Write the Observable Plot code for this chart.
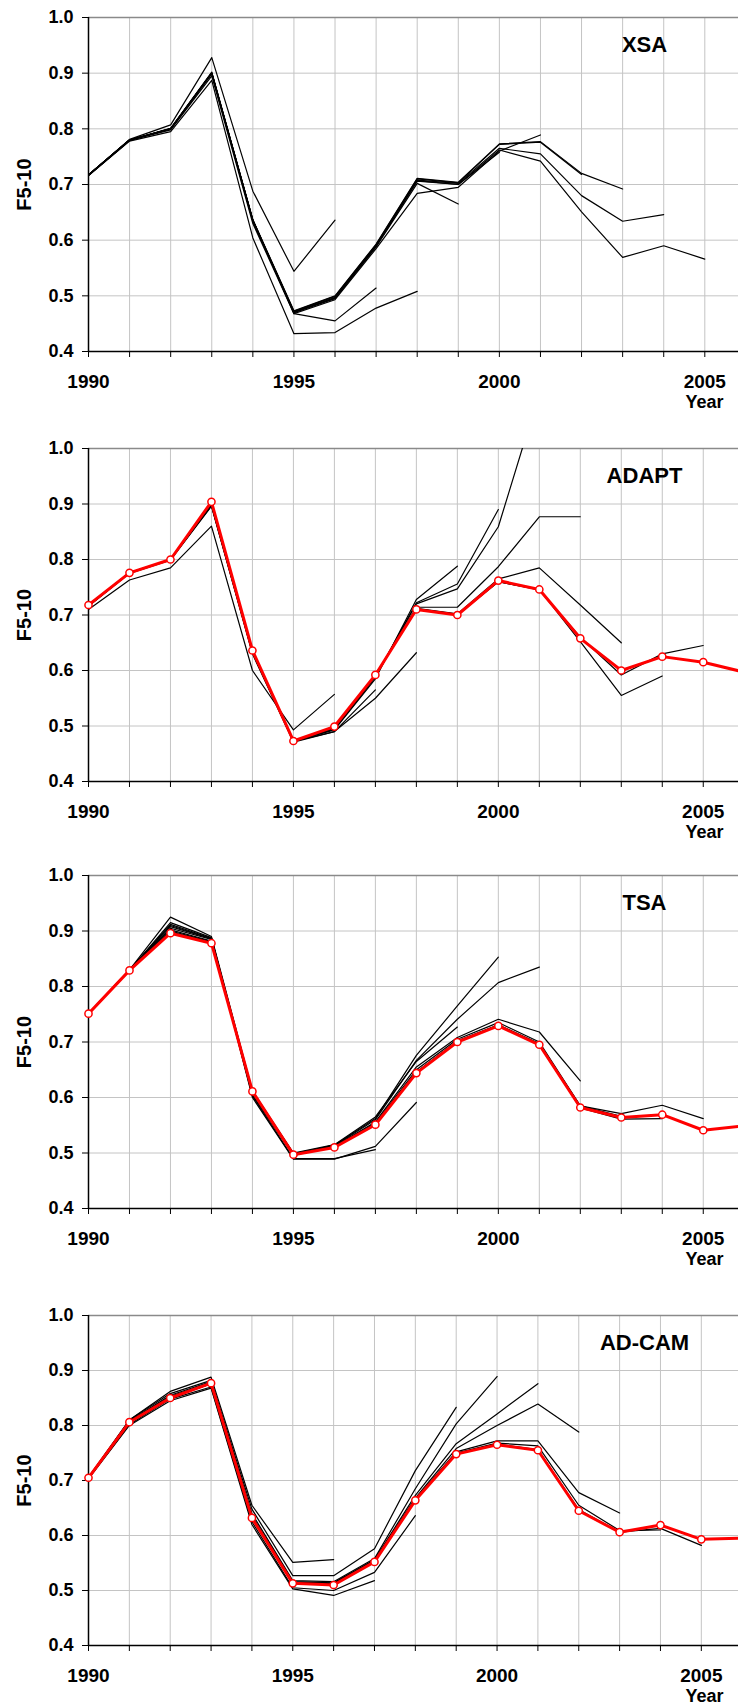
<!DOCTYPE html>
<html><head><meta charset="utf-8">
<script src="https://cdn.jsdelivr.net/npm/d3@7"></script>
<script src="https://cdn.jsdelivr.net/npm/@observablehq/plot@0.6"></script>
<style>
html,body{margin:0;padding:0;background:#fff;overflow:hidden}
#chart{position:relative;width:738px;height:1706px}
#chart svg{position:absolute;left:0}
</style></head><body><div id="chart"></div>
<script>
// ---- data ----
const firstYear = 1990;
const xTickYears = d3.range(1990, 2006);
const labelYears = [1990, 1995, 2000, 2005];
const yTicks = [0.4, 0.5, 0.6, 0.7, 0.8, 0.9, 1.0];
const panelTitles = ["XSA", "ADAPT", "TSA", "AD-CAM"];
const yLabel = "F5-10";
const xLabel = "Year";

// retrospective runs (values from 1990 to terminal year 1996..2005)
const xsaRuns = [
  [.717,.781,.807,.928,.688,.544,.636],
  [.717,.780,.800,.900,.636,.468,.455,.514],
  [.716,.778,.795,.887,.604,.432,.434,.478,.508],
  [.717,.780,.800,.900,.636,.470,.495,.588,.702,.665],
  [.717,.780,.800,.900,.635,.470,.497,.590,.706,.700,.758],
  [.716,.779,.798,.895,.630,.468,.493,.585,.684,.695,.760,.789],
  [.717,.780,.801,.901,.636,.472,.499,.592,.710,.703,.772,.776,.718],
  [.717,.780,.801,.902,.637,.473,.500,.593,.711,.704,.773,.777,.720,.692],
  [.717,.780,.800,.900,.635,.471,.497,.590,.708,.702,.765,.755,.680,.634,.646],
  [.717,.780,.800,.899,.634,.470,.496,.589,.707,.700,.762,.742,.651,.569,.590,.566]
];
const xsaFinal = [];

const adaptRuns = [
  [.710,.763,.785,.860,.600,.493,.557],
  [.716,.776,.800,.897,.632,.472,.490,.565],
  [.716,.775,.799,.896,.630,.471,.490,.550,.632],
  [.717,.776,.800,.898,.633,.472,.493,.585,.728,.788],
  [.717,.776,.800,.900,.634,.472,.494,.588,.722,.756,.890],
  [.717,.776,.800,.900,.634,.472,.495,.589,.720,.747,.859,1.10],
  [.717,.776,.800,.901,.635,.473,.496,.590,.714,.714,.787,.877,.877],
  [.717,.776,.800,.902,.635,.473,.497,.591,.712,.702,.765,.785,.718,.650],
  [.717,.776,.800,.902,.635,.473,.498,.591,.711,.701,.760,.746,.652,.555,.590],
  [.718,.776,.800,.903,.636,.473,.499,.592,.710,.700,.760,.745,.660,.592,.630,.645]
];
const adaptFinal = [.718,.776,.800,.904,.636,.473,.499,.592,.710,.700,.762,.746,.658,.600,.625,.615,.597];

const tsaRuns = [
  [.751,.829,.905,.885,.605,.495,.515],
  [.751,.829,.910,.886,.603,.490,.490,.506],
  [.751,.829,.915,.888,.600,.489,.489,.512,.591],
  [.751,.830,.925,.890,.612,.500,.515,.565,.665,.727],
  [.751,.830,.912,.887,.610,.499,.514,.562,.676,.765,.853],
  [.751,.830,.908,.886,.609,.498,.513,.560,.667,.741,.807,.835],
  [.751,.829,.902,.882,.610,.498,.512,.556,.655,.708,.741,.718,.630],
  [.751,.829,.900,.881,.610,.497,.511,.554,.650,.705,.735,.700,.585,.566],
  [.751,.829,.898,.880,.611,.497,.510,.552,.646,.702,.731,.697,.581,.561,.562],
  [.751,.829,.897,.879,.611,.497,.510,.552,.645,.701,.730,.696,.585,.571,.586,.562]
];
const tsaFinal = [.751,.829,.896,.878,.611,.497,.510,.551,.644,.700,.729,.695,.582,.564,.569,.541,.549];

const adcamRuns = [
  [.705,.810,.862,.888,.655,.551,.556],
  [.703,.800,.845,.868,.620,.503,.491,.518],
  [.704,.802,.848,.870,.625,.505,.500,.533,.636],
  [.706,.810,.858,.882,.648,.527,.527,.576,.718,.833],
  [.705,.808,.855,.880,.640,.518,.516,.558,.685,.803,.889],
  [.705,.807,.853,.878,.636,.516,.514,.556,.673,.767,.821,.876],
  [.705,.806,.851,.877,.634,.515,.513,.555,.668,.758,.800,.839,.788],
  [.705,.806,.850,.876,.632,.514,.512,.554,.666,.752,.772,.772,.678,.641],
  [.705,.806,.850,.876,.632,.513,.511,.553,.665,.750,.768,.763,.655,.609,.610],
  [.705,.806,.850,.877,.632,.513,.510,.552,.664,.749,.766,.756,.647,.606,.613,.582]
];
const adcamFinal = [.705,.806,.850,.877,.632,.513,.510,.552,.664,.748,.765,.755,.645,.606,.619,.593,.595];

// ---- layout ----
const panels = [
  {title: panelTitles[0], runs: xsaRuns,   final: xsaFinal,   top: 0,    plotH: 334, xMax: 2005.82, mb: 66},
  {title: panelTitles[1], runs: adaptRuns, final: adaptFinal, top: 431,  plotH: 333, xMax: 2005.86, mb: 66},
  {title: panelTitles[2], runs: tsaRuns,   final: tsaFinal,   top: 858,  plotH: 333, xMax: 2005.86, mb: 66},
  {title: panelTitles[3], runs: adcamRuns, final: adcamFinal, top: 1298, plotH: 330, xMax: 2005.91, mb: 61}
];

const toRows = (vals, k) => vals.map((v, i) => ({year: firstYear + i, value: v, run: k}));
const font = "'Liberation Sans', Arial, sans-serif";
const chart = document.getElementById("chart");
const mt = 17;

for (const p of panels) {
  const runRows = p.runs.flatMap((vals, k) => toRows(vals, k));
  const finalRows = toRows(p.final, -1);
  const svg = Plot.plot({
    width: 738,
    height: mt + p.plotH + p.mb,
    marginLeft: 88, marginRight: 0, marginTop: mt, marginBottom: p.mb,
    style: {fontFamily: font, background: "transparent", color: "black"},
    x: {domain: [1990, p.xMax], axis: null},
    y: {domain: [0.4, 1.0], axis: null},
    marks: [
      Plot.gridX(xTickYears.filter(d => d > 1990), {stroke: "#c4c4c4", strokeOpacity: 1, strokeWidth: 1}),
      Plot.gridY(yTicks.filter(d => d > 0.4 && d < 1.0), {stroke: "#c4c4c4", strokeOpacity: 1, strokeWidth: 1}),
      Plot.ruleY([1.0], {stroke: "#8a8a8a", strokeWidth: 1.5}),
      Plot.ruleX([1990], {stroke: "black", strokeWidth: 1.5}),
      Plot.ruleY([0.4], {stroke: "black", strokeWidth: 1.5}),
      Plot.axisY(yTicks, {tickSize: 6, tickPadding: 9, fontSize: 18, fontWeight: "bold",
        tickFormat: d3.format(".1f"), label: null}),
      Plot.axisX(xTickYears, {tickSize: 6, tickPadding: 17, fontSize: 19, fontWeight: "bold",
        tickFormat: d => labelYears.includes(d) ? String(d) : "", label: null}),
      Plot.line(runRows, {x: "year", y: "value", z: "run", stroke: "black", strokeWidth: 1.2, clip: true}),
      Plot.line(finalRows, {x: "year", y: "value", stroke: "#ff0000", strokeWidth: 3, clip: true}),
      Plot.dot(finalRows.filter(d => d.year <= 2005), {x: "year", y: "value", r: 3.6, fill: "white", stroke: "#ff0000", strokeWidth: 1.5}),
      Plot.text([p.title], {text: d => d, frameAnchor: "top-right", dx: -94, dy: 27, textAnchor: "middle",
        lineAnchor: "middle", fontSize: 22, fontWeight: "bold", fill: "black"}),
      Plot.text([yLabel], {text: d => d, frameAnchor: "left", dx: -64, rotate: -90, textAnchor: "middle",
        lineAnchor: "middle", fontSize: 20, fontWeight: "bold", fill: "black"}),
      Plot.text([xLabel], {text: d => d, frameAnchor: "bottom-right", dx: -34, dy: 51.2, textAnchor: "middle",
        lineAnchor: "middle", fontSize: 18, fontWeight: "bold", fill: "black"})
    ]
  });
  svg.style.top = p.top + "px";
  chart.appendChild(svg);
}
</script></body></html>
